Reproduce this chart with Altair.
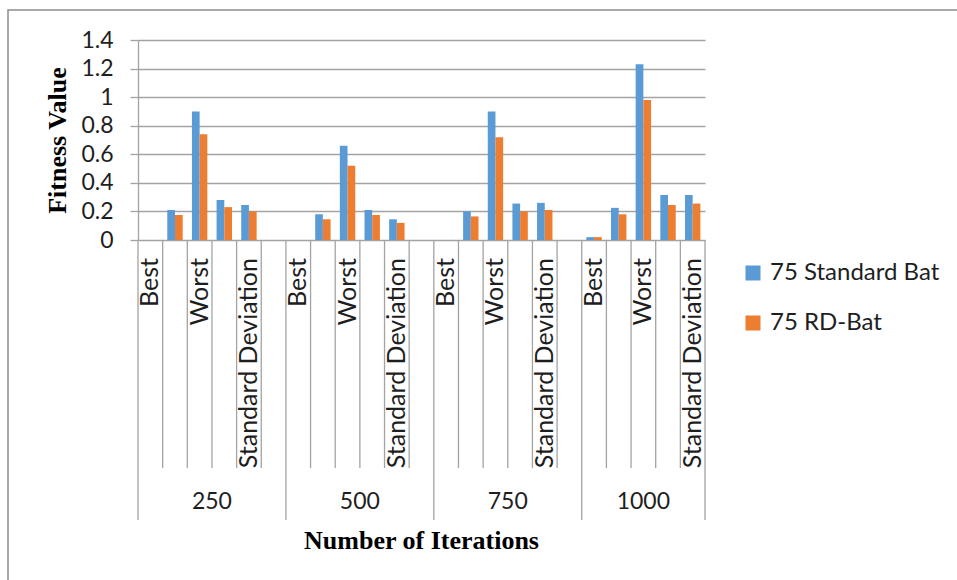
import altair as alt
import pandas as pd

# Fitness values per iteration budget (rows) and summary statistic (columns)
iterations = ["250", "500", "750", "1000"]
measures = ["Best", "Mean", "Worst", "Median", "Standard Deviation"]
series_names = ["75 Standard Bat", "75 RD-Bat"]
standard_bat = [
    [0.0, 0.21, 0.90, 0.28, 0.245],
    [0.0, 0.18, 0.66, 0.21, 0.145],
    [0.0, 0.20, 0.90, 0.255, 0.26],
    [0.02, 0.225, 1.23, 0.315, 0.315],
]
rd_bat = [
    [0.0, 0.175, 0.74, 0.23, 0.20],
    [0.0, 0.145, 0.52, 0.175, 0.12],
    [0.0, 0.165, 0.72, 0.20, 0.21],
    [0.02, 0.18, 0.98, 0.245, 0.255],
]
colors = ["#5B9BD5", "#ED7D31"]

SANS = "Lato"
SERIF = "Liberation Serif"
GRID = "#a3a3a3"
INK = "#1e1e1e"

# Category slots: each iteration block holds the five statistics plus an
# empty spacer slot (the last block has no spacer).
slot_rows = []
for gi, g in enumerate(iterations):
    n = 6 if gi < len(iterations) - 1 else 5
    for si in range(n):
        slot_rows.append({
            "key": f"{g}|{si}",
            "group": g,
            "si": si,
            "n": n,
            "measure": measures[si] if si < len(measures) else "",
        })
slots = pd.DataFrame(slot_rows)
slot_keys = list(slots["key"])

bar_rows = []
for gi, g in enumerate(iterations):
    for si, m in enumerate(measures):
        for name, vals in zip(series_names, [standard_bat, rd_bat]):
            bar_rows.append({"key": f"{g}|{si}", "series": name, "value": vals[gi][si]})
bars_df = pd.DataFrame(bar_rows)

xscale = alt.Scale(type="band", domain=slot_keys, paddingInner=0, paddingOuter=0)

bars = alt.Chart(bars_df).mark_bar().encode(
    x=alt.X(
        "key:N", scale=xscale, sort=slot_keys,
        axis=alt.Axis(
            labels=False, ticks=False, domain=False, grid=False,
            title="Number of Iterations", titleFont=SERIF, titleFontSize=26,
            titleFontWeight="bold", titleColor="#000000",
            titleX=283, titleY=300, titleAlign="center", titleBaseline="middle",
        ),
    ),
    xOffset=alt.XOffset("series:N", sort=series_names,
                        scale=alt.Scale(paddingInner=0, paddingOuter=0.6)),
    y=alt.Y(
        "value:Q", scale=alt.Scale(domain=[0, 1.4], nice=False),
        axis=alt.Axis(
            values=[0, 0.2, 0.4, 0.6, 0.8, 1, 1.2, 1.4], format="~g",
            grid=True, gridColor=GRID, gridWidth=1.3,
            tickSize=8, tickColor=GRID, tickWidth=1.3,
            domain=True, domainColor=GRID, domainWidth=1.3,
            labelFont=SANS, labelFontSize=23, labelColor=INK, labelPadding=17,
            title="Fitness Value", titleFont=SERIF, titleFontSize=26,
            titleFontWeight="bold", titleColor="#000000", titleAngle=270,
            titleX=-81, titleY=100, titleAlign="center", titleBaseline="middle",
        ),
    ),
    color=alt.Color(
        "series:N",
        scale=alt.Scale(domain=series_names, range=colors),
        legend=alt.Legend(
            title=None, orient="none", legendX=603, legendY=221,
            symbolType="square", symbolSize=225, symbolStrokeWidth=0,
            labelFont=SANS, labelFontSize=24, labelColor=INK, labelLimit=400,
            labelOffset=5, rowPadding=26, padding=0,
        ),
    ),
)

# Frame around the whole chart
frame = alt.Chart(alt.Data(values=[{}])).mark_rect(
    fill="white", fillOpacity=0, stroke="#8c8c8c", strokeWidth=1.5
).encode(
    x=alt.value(-130), x2=alt.value(1000), y=alt.value(-30), y2=alt.value(800)
)

# Separators between statistic slots
minor = alt.Chart(slots).transform_filter("datum.si > 0").mark_rule(
    color=GRID, strokeWidth=1.3
).encode(
    x=alt.X("key:N", scale=xscale, sort=slot_keys, bandPosition=0),
    y=alt.value(200), y2=alt.value(428),
)

# Separators between iteration blocks
major = alt.Chart(slots).transform_filter("datum.si == 0").mark_rule(
    color=GRID, strokeWidth=1.3
).encode(
    x=alt.X("key:N", scale=xscale, sort=slot_keys, bandPosition=0),
    y=alt.value(200), y2=alt.value(480),
)
major_end = alt.Chart(slots).transform_filter(
    f"datum.key == '{slot_keys[-1]}'"
).mark_rule(color=GRID, strokeWidth=1.3).encode(
    x=alt.X("key:N", scale=xscale, sort=slot_keys, bandPosition=1),
    y=alt.value(200), y2=alt.value(480),
)

# Rotated statistic labels (every other slot)
stat_labels = alt.Chart(slots).transform_filter(
    "datum.si % 2 == 0 && datum.measure != ''"
).mark_text(
    angle=270, align="right", baseline="middle", font=SANS, fontSize=25, color=INK
).encode(
    x=alt.X("key:N", scale=xscale, sort=slot_keys),
    y=alt.value(218),
    text="measure:N",
)

# Iteration labels centred under each block
group_even = alt.Chart(slots).transform_filter(
    "datum.n % 2 == 0 && datum.si == floor(datum.n / 2)"
).mark_text(baseline="middle", font=SANS, fontSize=23, color=INK).encode(
    x=alt.X("key:N", scale=xscale, sort=slot_keys, bandPosition=0),
    y=alt.value(462),
    text="group:N",
)
group_odd = alt.Chart(slots).transform_filter(
    "datum.n % 2 == 1 && datum.si == floor(datum.n / 2)"
).mark_text(baseline="middle", font=SANS, fontSize=23, color=INK).encode(
    x=alt.X("key:N", scale=xscale, sort=slot_keys, bandPosition=0.5),
    y=alt.value(462),
    text="group:N",
)

chart = alt.layer(
    frame, bars, minor, major, major_end, stat_labels, group_even, group_odd
).properties(
    width=567, height=200,
    padding={"left": 138, "top": 40, "right": 252, "bottom": 340},
    autosize=alt.AutoSizeParams(type="none"),
    background="white",
).configure_view(strokeWidth=0)

chart.save("out.html", embed_options={"renderer": "svg", "actions": False})
